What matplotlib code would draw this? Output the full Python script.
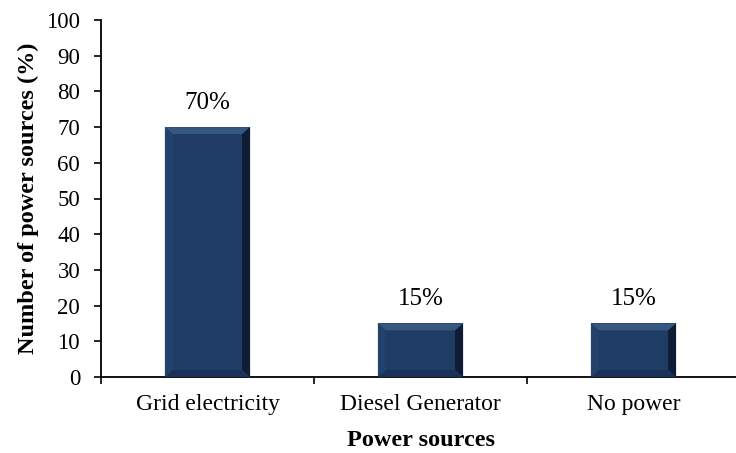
import matplotlib
matplotlib.use("Agg")
import matplotlib.pyplot as plt
from matplotlib.patches import Polygon
import numpy as np

categories = ["Grid electricity", "Diesel Generator", "No power"]
values = [70, 15, 15]
labels = ["70%", "15%", "15%"]
yticks = [0, 10, 20, 30, 40, 50, 60, 70, 80, 90, 100]

plt.rcParams['font.family'] = ['Liberation Serif', 'DejaVu Serif']

W, H = 736, 453
fig = plt.figure(figsize=(W / 100, H / 100), dpi=100)
left, right = 101, 740
bottom, top = 377, 20
ax = fig.add_axes([left / W, (H - bottom) / H, (right - left) / W, (bottom - top) / H])

x = np.arange(len(categories))
ax.set_xlim(-0.5, len(categories) - 0.5)
ax.set_ylim(0, 100)

body = "#1f3c65"
bars = ax.bar(x, values, width=0.4, color=body, edgecolor="none", zorder=2)

# bevel effect computed from bar geometry (about 8 px wide)
inv = ax.transData.inverted()
for rect in bars:
    x0, y0 = rect.get_x(), rect.get_y()
    w, h = rect.get_width(), rect.get_height()
    x1, y1 = x0 + w, y0 + h
    p0 = ax.transData.transform((x0, y0))
    bx = inv.transform((p0[0] + 8, p0[1]))[0] - x0
    by = inv.transform((p0[0], p0[1] + 7))[1] - y0
    faces = [
        ([(x0, y1), (x1, y1), (x1 - bx, y1 - by), (x0 + bx, y1 - by)], "#36577f"),  # top
        ([(x1, y1), (x1, y0), (x1 - bx, y0 + by), (x1 - bx, y1 - by)], "#0e1d35"),  # right
        ([(x0, y0), (x1, y0), (x1 - bx, y0 + by), (x0 + bx, y0 + by)], "#18325a"),  # bottom
        ([(x0, y0), (x0, y1), (x0 + bx, y1 - by), (x0 + bx, y0 + by)], "#22416b"),  # left
    ]
    for pts, c in faces:
        ax.add_patch(Polygon(pts, closed=True, facecolor=c, edgecolor="none", zorder=3))

for xi, v, lab in zip(x, values, labels):
    ax.annotate(lab, (xi, v), xytext=(0, 13), textcoords="offset points",
                ha="center", va="baseline", fontsize=18, color="black")

ax.set_yticks(yticks)
ax.set_yticklabels([str(t) for t in yticks], fontsize=16.5)
ax.set_xticks(x)
ax.set_xticklabels(categories, fontsize=17)
ax.tick_params(axis="x", length=0, pad=12)
ax.set_xticks(np.arange(len(categories) + 1) - 0.5, minor=True)
ax.tick_params(axis="x", which="minor", length=5, direction="out", width=1.2)
ax.tick_params(axis="y", length=5, direction="out", width=1.2, pad=10)

for s in ["top", "right"]:
    ax.spines[s].set_visible(False)
ax.spines["left"].set_linewidth(1.3)
ax.spines["bottom"].set_linewidth(1.3)

ax.set_xlabel("Power sources", fontsize=17.5, fontweight="bold", labelpad=11)
ax.set_ylabel("Number of power sources (%)", fontsize=17.5, fontweight="bold", labelpad=5)

fig.savefig("out.png", dpi=100)
